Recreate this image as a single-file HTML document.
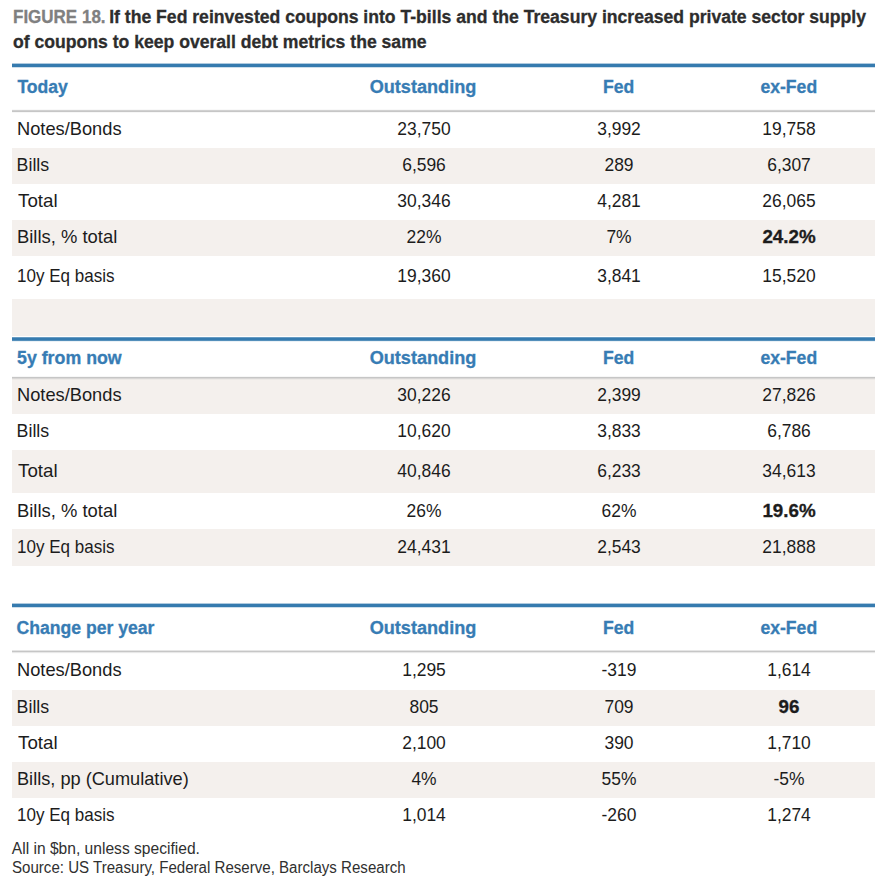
<!DOCTYPE html>
<html><head><meta charset="utf-8"><title>Figure 18</title>
<style>
html,body{margin:0;padding:0;background:#fff;}
body{width:886px;height:882px;position:relative;overflow:hidden;font-family:"Liberation Sans",sans-serif;}
.r{position:absolute;}
.t{position:absolute;white-space:nowrap;line-height:1;}
.c{text-align:center;}
</style></head><body>
<div class="t" style="top:9.00px;left:12.9px;font-size:17.6px;font-weight:700;-webkit-text-stroke:0.3px #808080;color:#808080;transform-origin:0 0;transform:scaleX(0.966);">FIGURE 18.</div>
<div class="t" style="top:9.00px;left:109.2px;font-size:17.6px;font-weight:700;-webkit-text-stroke:0.3px #2d2d2d;color:#2d2d2d;transform-origin:0 0;">If the Fed reinvested coupons into T-bills and the Treasury increased private sector supply</div>
<div class="t" style="top:34.00px;left:13px;font-size:17.6px;font-weight:700;-webkit-text-stroke:0.3px #2d2d2d;color:#2d2d2d;transform-origin:0 0;">of coupons to keep overall debt metrics the same</div>
<div class="r" style="top:148px;height:36px;left:12px;width:863px;background:#f4f0ed"></div>
<div class="r" style="top:220px;height:36px;left:12px;width:863px;background:#f4f0ed"></div>
<div class="r" style="top:299px;height:37px;left:12px;width:863px;background:#f4f0ed"></div>
<div class="r" style="top:63px;height:1px;left:12px;width:863px;background:rgba(54,123,175,0.4)"></div>
<div class="r" style="top:64px;height:1px;left:12px;width:863px;background:rgb(54,123,175)"></div>
<div class="r" style="top:65px;height:1px;left:12px;width:863px;background:rgb(54,123,175)"></div>
<div class="r" style="top:66px;height:1px;left:12px;width:863px;background:rgb(54,123,175)"></div>
<div class="r" style="top:67px;height:1px;left:12px;width:863px;background:rgba(54,123,175,0.25)"></div>
<div class="r" style="top:109px;height:1px;left:12px;width:863px;background:rgba(198,198,198,0.1)"></div>
<div class="r" style="top:110px;height:1px;left:12px;width:863px;background:rgba(198,198,198,0.8)"></div>
<div class="r" style="top:111px;height:1px;left:12px;width:863px;background:rgb(198,198,198)"></div>
<div class="r" style="top:112px;height:1px;left:12px;width:863px;background:rgba(198,198,198,0.15)"></div>
<div class="t" style="top:79.00px;left:17.400000000000002px;font-size:17.6px;font-weight:700;-webkit-text-stroke:0.3px #377cb4;color:#377cb4;transform-origin:0 0;">Today</div>
<div class="t c" style="top:79.00px;left:272.7px;width:300px;font-size:17.6px;font-weight:700;-webkit-text-stroke:0.3px #377cb4;color:#377cb4;transform:scaleX(1.03);">Outstanding</div>
<div class="t c" style="top:79.00px;left:468.6px;width:300px;font-size:17.6px;font-weight:700;-webkit-text-stroke:0.3px #377cb4;color:#377cb4;">Fed</div>
<div class="t c" style="top:79.00px;left:638.8px;width:300px;font-size:17.6px;font-weight:700;-webkit-text-stroke:0.3px #377cb4;color:#377cb4;">ex-Fed</div>
<div class="t" style="top:121.00px;left:16.6px;font-size:17.8px;color:#1c1c1c;transform-origin:0 0;transform:scaleX(1.027);">Notes/Bonds</div>
<div class="t c" style="top:121.00px;left:273.5px;width:300px;font-size:17.8px;color:#1c1c1c;transform:scaleX(0.98);">23,750</div>
<div class="t c" style="top:121.00px;left:469px;width:300px;font-size:17.8px;color:#1c1c1c;transform:scaleX(0.98);">3,992</div>
<div class="t c" style="top:121.00px;left:639px;width:300px;font-size:17.8px;color:#1c1c1c;transform:scaleX(0.98);">19,758</div>
<div class="t" style="top:157.00px;left:16.6px;font-size:17.8px;color:#1c1c1c;transform-origin:0 0;">Bills</div>
<div class="t c" style="top:157.00px;left:273.5px;width:300px;font-size:17.8px;color:#1c1c1c;transform:scaleX(0.98);">6,596</div>
<div class="t c" style="top:157.00px;left:469px;width:300px;font-size:17.8px;color:#1c1c1c;transform:scaleX(0.98);">289</div>
<div class="t c" style="top:157.00px;left:639px;width:300px;font-size:17.8px;color:#1c1c1c;transform:scaleX(0.98);">6,307</div>
<div class="t" style="top:193.00px;left:17.6px;font-size:17.8px;color:#1c1c1c;transform-origin:0 0;transform:scaleX(1.055);">Total</div>
<div class="t c" style="top:193.00px;left:273.5px;width:300px;font-size:17.8px;color:#1c1c1c;transform:scaleX(0.98);">30,346</div>
<div class="t c" style="top:193.00px;left:469px;width:300px;font-size:17.8px;color:#1c1c1c;transform:scaleX(0.98);">4,281</div>
<div class="t c" style="top:193.00px;left:639px;width:300px;font-size:17.8px;color:#1c1c1c;transform:scaleX(0.98);">26,065</div>
<div class="t" style="top:229.00px;left:16.6px;font-size:17.8px;color:#1c1c1c;transform-origin:0 0;transform:scaleX(1.035);">Bills, % total</div>
<div class="t c" style="top:229.00px;left:273.5px;width:300px;font-size:17.8px;color:#1c1c1c;transform:scaleX(0.98);">22%</div>
<div class="t c" style="top:229.00px;left:469px;width:300px;font-size:17.8px;color:#1c1c1c;transform:scaleX(0.98);">7%</div>
<div class="t c" style="top:229.00px;left:639px;width:300px;font-size:17.8px;font-weight:700;-webkit-text-stroke:0.3px #1c1c1c;color:#1c1c1c;transform:scaleX(1.055);">24.2%</div>
<div class="t" style="top:268.00px;left:16.6px;font-size:17.8px;color:#1c1c1c;transform-origin:0 0;transform:scaleX(0.957);">10y Eq basis</div>
<div class="t c" style="top:268.00px;left:273.5px;width:300px;font-size:17.8px;color:#1c1c1c;transform:scaleX(0.98);">19,360</div>
<div class="t c" style="top:268.00px;left:469px;width:300px;font-size:17.8px;color:#1c1c1c;transform:scaleX(0.98);">3,841</div>
<div class="t c" style="top:268.00px;left:639px;width:300px;font-size:17.8px;color:#1c1c1c;transform:scaleX(0.98);">15,520</div>
<div class="r" style="top:378px;height:36px;left:12px;width:863px;background:#f4f0ed"></div>
<div class="r" style="top:450px;height:43px;left:12px;width:863px;background:#f4f0ed"></div>
<div class="r" style="top:529px;height:37px;left:12px;width:863px;background:#f4f0ed"></div>
<div class="r" style="top:337px;height:1px;left:12px;width:863px;background:rgba(54,123,175,0.75)"></div>
<div class="r" style="top:338px;height:1px;left:12px;width:863px;background:rgb(54,123,175)"></div>
<div class="r" style="top:339px;height:1px;left:12px;width:863px;background:rgb(54,123,175)"></div>
<div class="r" style="top:340px;height:1px;left:12px;width:863px;background:rgba(54,123,175,0.85)"></div>
<div class="r" style="top:341px;height:1px;left:12px;width:863px;background:rgba(54,123,175,0.1)"></div>
<div class="r" style="top:376px;height:1px;left:12px;width:863px;background:rgba(198,198,198,0.15)"></div>
<div class="r" style="top:377px;height:1px;left:12px;width:863px;background:rgb(198,198,198)"></div>
<div class="r" style="top:378px;height:1px;left:12px;width:863px;background:rgba(198,198,198,0.6)"></div>
<div class="r" style="top:379px;height:1px;left:12px;width:863px;background:rgba(198,198,198,0.15)"></div>
<div class="t" style="top:350.00px;left:16.6px;font-size:17.6px;font-weight:700;-webkit-text-stroke:0.3px #377cb4;color:#377cb4;transform-origin:0 0;transform:scaleX(1.01);">5y from now</div>
<div class="t c" style="top:350.00px;left:272.7px;width:300px;font-size:17.6px;font-weight:700;-webkit-text-stroke:0.3px #377cb4;color:#377cb4;transform:scaleX(1.03);">Outstanding</div>
<div class="t c" style="top:350.00px;left:468.6px;width:300px;font-size:17.6px;font-weight:700;-webkit-text-stroke:0.3px #377cb4;color:#377cb4;">Fed</div>
<div class="t c" style="top:350.00px;left:638.8px;width:300px;font-size:17.6px;font-weight:700;-webkit-text-stroke:0.3px #377cb4;color:#377cb4;">ex-Fed</div>
<div class="t" style="top:387.00px;left:16.6px;font-size:17.8px;color:#1c1c1c;transform-origin:0 0;transform:scaleX(1.027);">Notes/Bonds</div>
<div class="t c" style="top:387.00px;left:273.5px;width:300px;font-size:17.8px;color:#1c1c1c;transform:scaleX(0.98);">30,226</div>
<div class="t c" style="top:387.00px;left:469px;width:300px;font-size:17.8px;color:#1c1c1c;transform:scaleX(0.98);">2,399</div>
<div class="t c" style="top:387.00px;left:639px;width:300px;font-size:17.8px;color:#1c1c1c;transform:scaleX(0.98);">27,826</div>
<div class="t" style="top:423.00px;left:16.6px;font-size:17.8px;color:#1c1c1c;transform-origin:0 0;">Bills</div>
<div class="t c" style="top:423.00px;left:273.5px;width:300px;font-size:17.8px;color:#1c1c1c;transform:scaleX(0.98);">10,620</div>
<div class="t c" style="top:423.00px;left:469px;width:300px;font-size:17.8px;color:#1c1c1c;transform:scaleX(0.98);">3,833</div>
<div class="t c" style="top:423.00px;left:639px;width:300px;font-size:17.8px;color:#1c1c1c;transform:scaleX(0.98);">6,786</div>
<div class="t" style="top:463.00px;left:17.6px;font-size:17.8px;color:#1c1c1c;transform-origin:0 0;transform:scaleX(1.055);">Total</div>
<div class="t c" style="top:463.00px;left:273.5px;width:300px;font-size:17.8px;color:#1c1c1c;transform:scaleX(0.98);">40,846</div>
<div class="t c" style="top:463.00px;left:469px;width:300px;font-size:17.8px;color:#1c1c1c;transform:scaleX(0.98);">6,233</div>
<div class="t c" style="top:463.00px;left:639px;width:300px;font-size:17.8px;color:#1c1c1c;transform:scaleX(0.98);">34,613</div>
<div class="t" style="top:503.00px;left:16.6px;font-size:17.8px;color:#1c1c1c;transform-origin:0 0;transform:scaleX(1.035);">Bills, % total</div>
<div class="t c" style="top:503.00px;left:273.5px;width:300px;font-size:17.8px;color:#1c1c1c;transform:scaleX(0.98);">26%</div>
<div class="t c" style="top:503.00px;left:469px;width:300px;font-size:17.8px;color:#1c1c1c;transform:scaleX(0.98);">62%</div>
<div class="t c" style="top:503.00px;left:639px;width:300px;font-size:17.8px;font-weight:700;-webkit-text-stroke:0.3px #1c1c1c;color:#1c1c1c;transform:scaleX(1.055);">19.6%</div>
<div class="t" style="top:539.00px;left:16.6px;font-size:17.8px;color:#1c1c1c;transform-origin:0 0;transform:scaleX(0.957);">10y Eq basis</div>
<div class="t c" style="top:539.00px;left:273.5px;width:300px;font-size:17.8px;color:#1c1c1c;transform:scaleX(0.98);">24,431</div>
<div class="t c" style="top:539.00px;left:469px;width:300px;font-size:17.8px;color:#1c1c1c;transform:scaleX(0.98);">2,543</div>
<div class="t c" style="top:539.00px;left:639px;width:300px;font-size:17.8px;color:#1c1c1c;transform:scaleX(0.98);">21,888</div>
<div class="r" style="top:690px;height:36px;left:12px;width:863px;background:#f4f0ed"></div>
<div class="r" style="top:762px;height:36px;left:12px;width:863px;background:#f4f0ed"></div>
<div class="r" style="top:603px;height:1px;left:12px;width:863px;background:rgba(54,123,175,0.4)"></div>
<div class="r" style="top:604px;height:1px;left:12px;width:863px;background:rgb(54,123,175)"></div>
<div class="r" style="top:605px;height:1px;left:12px;width:863px;background:rgb(54,123,175)"></div>
<div class="r" style="top:606px;height:1px;left:12px;width:863px;background:rgb(54,123,175)"></div>
<div class="r" style="top:607px;height:1px;left:12px;width:863px;background:rgba(54,123,175,0.25)"></div>
<div class="r" style="top:650px;height:1px;left:12px;width:863px;background:rgba(198,198,198,0.45)"></div>
<div class="r" style="top:651px;height:1px;left:12px;width:863px;background:rgb(198,198,198)"></div>
<div class="r" style="top:652px;height:1px;left:12px;width:863px;background:rgba(198,198,198,0.4)"></div>
<div class="r" style="top:653px;height:1px;left:12px;width:863px;background:rgba(198,198,198,0.05)"></div>
<div class="t" style="top:620.00px;left:16.6px;font-size:17.6px;font-weight:700;-webkit-text-stroke:0.3px #377cb4;color:#377cb4;transform-origin:0 0;">Change per year</div>
<div class="t c" style="top:620.00px;left:272.7px;width:300px;font-size:17.6px;font-weight:700;-webkit-text-stroke:0.3px #377cb4;color:#377cb4;transform:scaleX(1.03);">Outstanding</div>
<div class="t c" style="top:620.00px;left:468.6px;width:300px;font-size:17.6px;font-weight:700;-webkit-text-stroke:0.3px #377cb4;color:#377cb4;">Fed</div>
<div class="t c" style="top:620.00px;left:638.8px;width:300px;font-size:17.6px;font-weight:700;-webkit-text-stroke:0.3px #377cb4;color:#377cb4;">ex-Fed</div>
<div class="t" style="top:662.00px;left:16.6px;font-size:17.8px;color:#1c1c1c;transform-origin:0 0;transform:scaleX(1.027);">Notes/Bonds</div>
<div class="t c" style="top:662.00px;left:273.5px;width:300px;font-size:17.8px;color:#1c1c1c;transform:scaleX(0.98);">1,295</div>
<div class="t c" style="top:662.00px;left:469px;width:300px;font-size:17.8px;color:#1c1c1c;transform:scaleX(0.98);">-319</div>
<div class="t c" style="top:662.00px;left:639px;width:300px;font-size:17.8px;color:#1c1c1c;transform:scaleX(0.98);">1,614</div>
<div class="t" style="top:699.00px;left:16.6px;font-size:17.8px;color:#1c1c1c;transform-origin:0 0;">Bills</div>
<div class="t c" style="top:699.00px;left:273.5px;width:300px;font-size:17.8px;color:#1c1c1c;transform:scaleX(0.98);">805</div>
<div class="t c" style="top:699.00px;left:469px;width:300px;font-size:17.8px;color:#1c1c1c;transform:scaleX(0.98);">709</div>
<div class="t c" style="top:699.00px;left:639px;width:300px;font-size:17.8px;font-weight:700;-webkit-text-stroke:0.3px #1c1c1c;color:#1c1c1c;transform:scaleX(1.055);">96</div>
<div class="t" style="top:735.00px;left:17.6px;font-size:17.8px;color:#1c1c1c;transform-origin:0 0;transform:scaleX(1.055);">Total</div>
<div class="t c" style="top:735.00px;left:273.5px;width:300px;font-size:17.8px;color:#1c1c1c;transform:scaleX(0.98);">2,100</div>
<div class="t c" style="top:735.00px;left:469px;width:300px;font-size:17.8px;color:#1c1c1c;transform:scaleX(0.98);">390</div>
<div class="t c" style="top:735.00px;left:639px;width:300px;font-size:17.8px;color:#1c1c1c;transform:scaleX(0.98);">1,710</div>
<div class="t" style="top:771.00px;left:16.6px;font-size:17.8px;color:#1c1c1c;transform-origin:0 0;transform:scaleX(1.022);">Bills, pp (Cumulative)</div>
<div class="t c" style="top:771.00px;left:273.5px;width:300px;font-size:17.8px;color:#1c1c1c;transform:scaleX(0.98);">4%</div>
<div class="t c" style="top:771.00px;left:469px;width:300px;font-size:17.8px;color:#1c1c1c;transform:scaleX(0.98);">55%</div>
<div class="t c" style="top:771.00px;left:639px;width:300px;font-size:17.8px;color:#1c1c1c;transform:scaleX(0.98);">-5%</div>
<div class="t" style="top:807.00px;left:16.6px;font-size:17.8px;color:#1c1c1c;transform-origin:0 0;transform:scaleX(0.957);">10y Eq basis</div>
<div class="t c" style="top:807.00px;left:273.5px;width:300px;font-size:17.8px;color:#1c1c1c;transform:scaleX(0.98);">1,014</div>
<div class="t c" style="top:807.00px;left:469px;width:300px;font-size:17.8px;color:#1c1c1c;transform:scaleX(0.98);">-260</div>
<div class="t c" style="top:807.00px;left:639px;width:300px;font-size:17.8px;color:#1c1c1c;transform:scaleX(0.98);">1,274</div>
<div class="t" style="top:841.00px;left:11.8px;font-size:15.6px;color:#303030;transform-origin:0 0;">All in $bn, unless specified.</div>
<div class="t" style="top:860.00px;left:11.8px;font-size:15.6px;color:#303030;transform-origin:0 0;transform:scaleX(0.967);">Source: US Treasury, Federal Reserve, Barclays Research</div>
</body></html>
